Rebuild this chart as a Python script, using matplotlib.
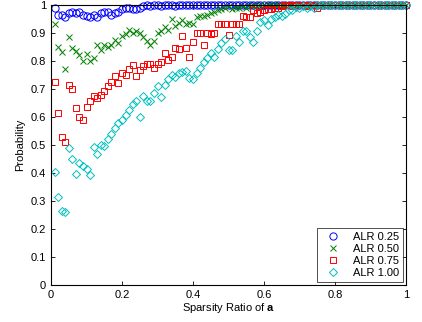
import matplotlib
matplotlib.use('Agg')
import matplotlib.pyplot as plt
import numpy as np

plt.rcParams['font.family'] = ['Liberation Sans', 'DejaVu Sans']
plt.rcParams['mathtext.fontset'] = 'custom'
plt.rcParams['mathtext.bf'] = 'Liberation Sans:bold'

# sparsity ratio 0.01 ... 1.00
sparsity = np.arange(1, 101) / 100.0

alr_025 = [0.99, 0.965, 0.965, 0.955, 0.97, 0.975, 0.97, 0.975, 0.965, 0.96,
           0.955, 0.965, 0.955, 0.97, 0.975, 0.975, 0.965, 0.97, 0.975, 0.985,
           0.99, 0.99, 0.985, 0.985, 0.99, 0.995, 1.0, 0.995, 1.0, 1.0,
           0.995, 1.0, 1.0, 1.0, 0.995, 1.0, 1.0, 1.0, 1.0, 1.0] + [1.0] * 60

alr_050 = [0.93, 0.85, 0.83, 0.77, 0.885, 0.845, 0.835, 0.82, 0.80, 0.825,
           0.80, 0.81, 0.855, 0.84, 0.855, 0.85, 0.855, 0.875, 0.865, 0.89,
           0.895, 0.91, 0.90, 0.905, 0.90, 0.885, 0.87, 0.855, 0.87, 0.90,
           0.905, 0.92, 0.91, 0.95, 0.925, 0.935, 0.945, 0.93, 0.935, 0.93,
           0.955, 0.96, 0.96, 0.965, 0.97, 0.975, 0.98, 0.985, 0.99, 0.995,
           0.985, 0.99, 0.99, 0.995, 0.99, 0.995, 1.0, 0.995, 1.0, 1.0] + [1.0] * 40

alr_075 = [0.723, 0.613, 0.527, 0.51, 0.714, 0.699, 0.631, 0.601, 0.589, 0.637,
           0.655, 0.675, 0.667, 0.679, 0.694, 0.711, 0.726, 0.746, 0.72, 0.756,
           0.75, 0.77, 0.786, 0.746, 0.768, 0.782, 0.79, 0.79, 0.774, 0.79,
           0.797, 0.827, 0.804, 0.815, 0.845, 0.842, 0.887, 0.846, 0.815, 0.866,
           0.90, 0.90, 0.857, 0.899, 0.895, 0.90, 0.932, 0.93, 0.93, 0.893,
           0.93, 0.93, 0.93, 0.96, 0.955, 0.955, 0.98, 0.97, 0.975, 0.98,
           0.985, 0.985, 0.99, 0.99, 0.995, 1.0, 1.0, 0.995, 1.0, 1.0,
           1.0, 0.995, 1.0, 1.0, 0.99] + [1.0] * 25

alr_100 = [0.405, 0.315, 0.264, 0.26, 0.488, 0.449, 0.395, 0.435, 0.426, 0.414,
           0.393, 0.491, 0.466, 0.5, 0.497, 0.52, 0.54, 0.56, 0.578, 0.59,
           0.605, 0.625, 0.645, 0.655, 0.598, 0.675, 0.655, 0.658, 0.685, 0.712,
           0.67, 0.714, 0.735, 0.75, 0.742, 0.756, 0.76, 0.765, 0.738, 0.735,
           0.756, 0.775, 0.797, 0.81, 0.827, 0.812, 0.842, 0.863, 0.877, 0.84,
           0.84, 0.889, 0.869, 0.905, 0.905, 0.884, 0.869, 0.905, 0.938, 0.945,
           0.929, 0.95, 0.958, 0.964, 0.96, 0.968, 0.982, 0.98, 0.994, 0.988,
           0.995, 0.99, 0.995, 0.988] + [1.0] * 26

series = [
    (alr_025, 'o', 5.2, (0, 0, 1), 'ALR 0.25'),
    (alr_050, 'x', 4.0, (0, 0.5, 0), 'ALR 0.50'),
    (alr_075, 's', 5.0, (1, 0, 0), 'ALR 0.75'),
    (alr_100, 'D', 4.0, (0, 0.75, 0.75), 'ALR 1.00'),
]

fig = plt.figure(figsize=(4.22, 3.22), dpi=100)
ax = fig.add_axes([0.121, 0.115, 0.841, 0.870])

for vals, mk, ms, col, lab in series:
    ax.plot(sparsity, vals, linestyle='none', marker=mk, markersize=ms,
            markerfacecolor='none', markeredgecolor=col, markeredgewidth=0.7,
            label=lab, clip_on=False)

ax.set_xlim(0, 1)
ax.set_ylim(0, 1)
ax.set_xticks(np.arange(0, 1.01, 0.2))
ax.set_xticklabels(['0', '0.2', '0.4', '0.6', '0.8', '1'])
ax.set_yticks(np.arange(0, 1.01, 0.1))
ax.set_yticklabels(['0', '0.1', '0.2', '0.3', '0.4', '0.5', '0.6', '0.7', '0.8', '0.9', '1'])
ax.tick_params(direction='in', top=True, right=True, labelsize=8, length=3, width=0.6)
for sp in ax.spines.values():
    sp.set_linewidth(0.8)

ax.set_xlabel(r'Sparsity Ratio of $\mathbf{a}$', fontsize=8, labelpad=1)
ax.set_ylabel('Probability', fontsize=8, labelpad=4)

leg = ax.legend(loc='lower right', fontsize=8, frameon=True, fancybox=False,
                borderaxespad=0.3, handletextpad=0.6, borderpad=0.3,
                labelspacing=0.2, handlelength=2.4)
leg.get_frame().set_edgecolor('black')
leg.get_frame().set_linewidth(0.6)

fig.savefig('out.png', dpi=100)
